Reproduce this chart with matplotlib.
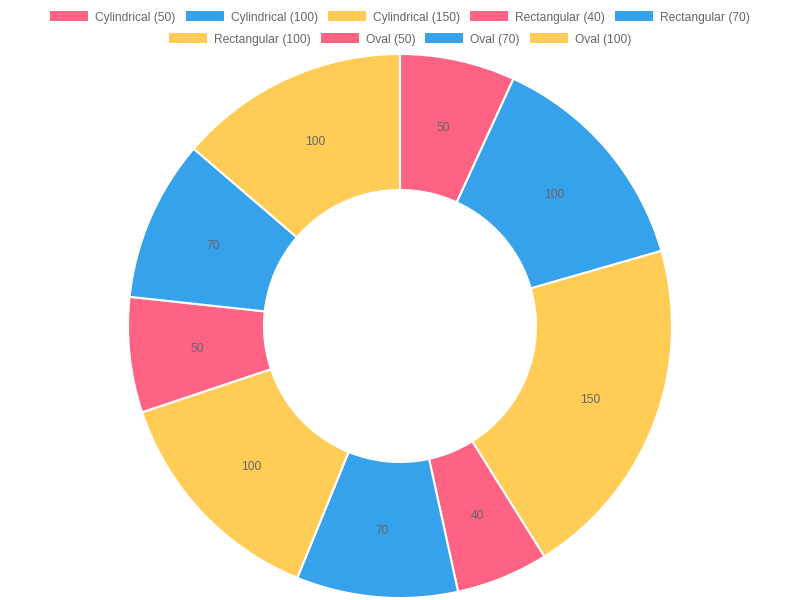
import matplotlib
matplotlib.use('Agg')
import matplotlib.pyplot as plt
from matplotlib.patches import Rectangle
import numpy as np

# data
labels = ['Cylindrical (50)', 'Cylindrical (100)', 'Cylindrical (150)',
          'Rectangular (40)', 'Rectangular (70)', 'Rectangular (100)',
          'Oval (50)', 'Oval (70)', 'Oval (100)']
values = [50, 100, 150, 40, 70, 100, 50, 70, 100]
colors = ['#FF6384', '#36A2EB', '#FFCD56'] * 3

plt.rcParams['font.family'] = ['Liberation Sans', 'DejaVu Sans']
W, H = 800, 600
fig = plt.figure(figsize=(8, 6), dpi=100)
ax = fig.add_axes([0, 0, 1, 1])

cx, cy = 400, H - 326
r_out = 272
r_in = 136
wedges, _ = ax.pie(values, colors=colors, center=(cx, cy), radius=r_out,
                   startangle=90, counterclock=False,
                   wedgeprops=dict(width=r_out - r_in, edgecolor='white', linewidth=1.5))
ax.set_xlim(0, W)
ax.set_ylim(0, H)
ax.set_aspect('equal')
ax.axis('off')

r_mid = (r_out + r_in) / 2
for w, v in zip(wedges, values):
    ang = np.deg2rad((w.theta1 + w.theta2) / 2)
    ax.text(cx + r_mid * np.cos(ang), cy + r_mid * np.sin(ang), str(v),
            ha='center', va='center_baseline', fontsize=8.64, color='#666666')

# legend drawn by hand, two centered rows like chart.js
fig.canvas.draw()
renderer = fig.canvas.get_renderer()
rows = [list(range(0, 5)), list(range(5, 9))]
row_y = [16, 38]
box_w, box_h, gap_txt, gap_item = 38, 10, 7, 10
for row, yy in zip(rows, row_y):
    widths = []
    for i in row:
        t = ax.text(0, 0, labels[i], fontsize=8.64)
        widths.append(t.get_window_extent(renderer).width)
        t.remove()
    total = sum(box_w + gap_txt + w for w in widths) + gap_item * (len(row) - 1)
    x = (W - total) / 2
    for i, w in zip(row, widths):
        ax.add_patch(Rectangle((x, H - yy - box_h / 2), box_w, box_h,
                               facecolor=colors[i], edgecolor='none', clip_on=False))
        ax.text(x + box_w + gap_txt, H - yy, labels[i], fontsize=8.64,
                color='#666666', ha='left', va='center_baseline')
        x += box_w + gap_txt + w + gap_item

fig.savefig('out.png', dpi=100)
